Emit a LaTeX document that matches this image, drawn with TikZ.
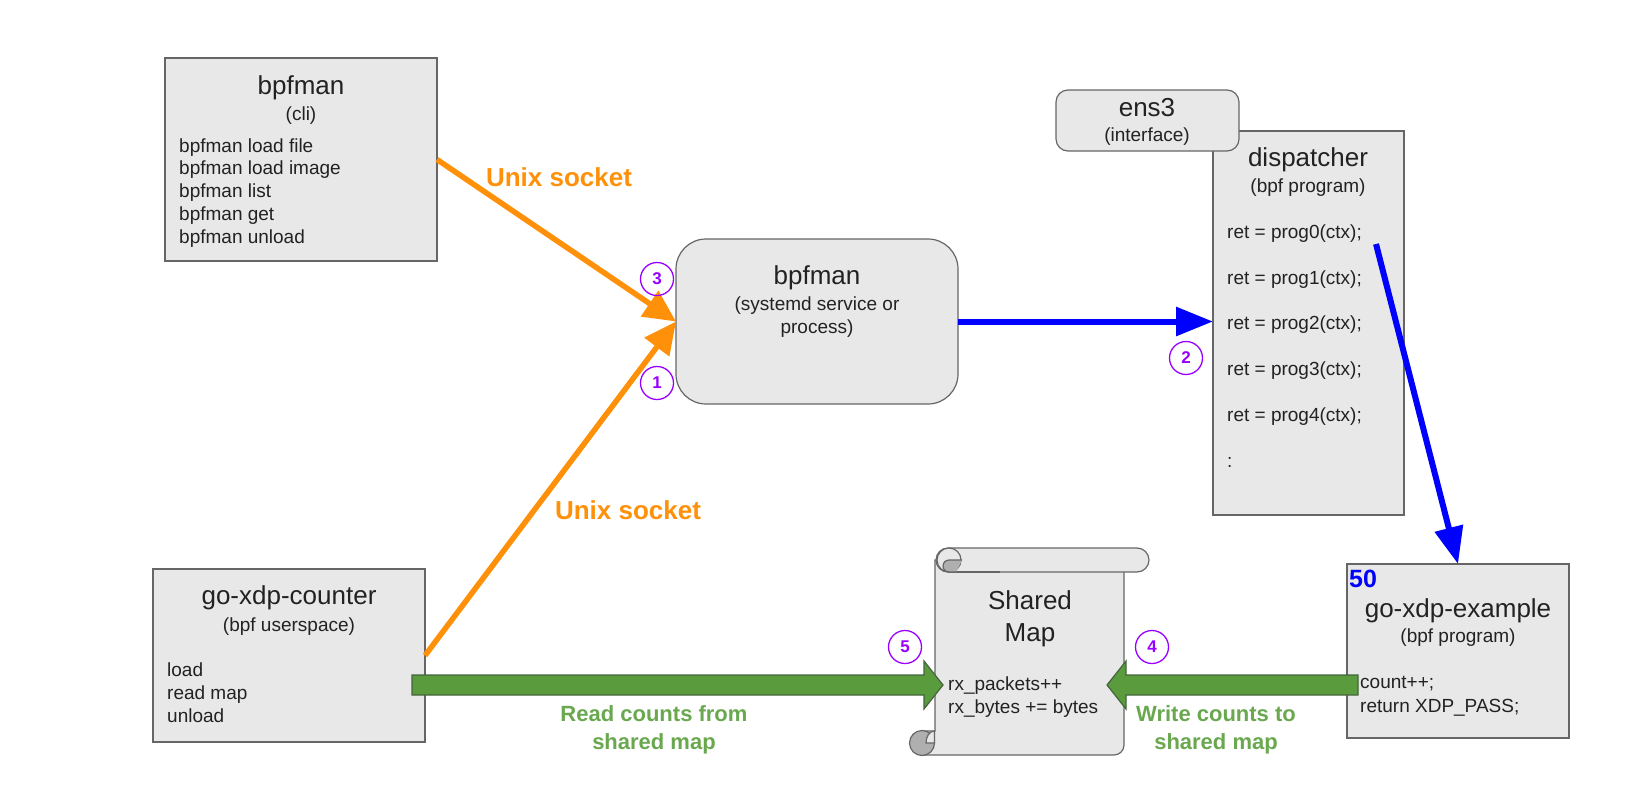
\documentclass[tikz,border=0pt]{standalone}
\usepackage{fontspec}
\setmainfont{Liberation Sans}
\usepackage{tikz}
\usetikzlibrary{arrows.meta, positioning, calc}
\definecolor{boxFill}{RGB}{232,232,232}
\definecolor{boxLine}{RGB}{102,102,102}
\definecolor{sockColor}{RGB}{255,145,10}
\definecolor{callColor}{RGB}{0,0,255}
\definecolor{mapColor}{RGB}{90,155,62}
\definecolor{mapLine}{RGB}{70,100,60}
\definecolor{mapText}{RGB}{106,168,79}
\definecolor{stepColor}{RGB}{153,0,255}
\definecolor{curlFill}{RGB}{175,175,175}
\definecolor{inkColor}{RGB}{34,34,34}

\tikzset{
  greybox/.style={draw=boxLine, fill=boxFill, line width=1.2pt, inner sep=0pt, outer sep=0pt, anchor=north west},
  boxtitle/.style={font=\fontsize{26}{30}\selectfont, text=inkColor, text height=19pt, text depth=5.5pt, inner sep=0pt},
  boxsub/.style={font=\fontsize{19}{22}\selectfont, text=inkColor, text height=14pt, text depth=4pt, inner sep=0pt},
  codeline/.style={boxsub, anchor=west},
  numcirc/.style={circle, draw=stepColor, line width=1.3pt, minimum size=33pt, inner sep=0pt, text=stepColor, font=\bfseries\fontsize{17}{17}\selectfont},
  sockline/.style={draw=sockColor, line width=5.5pt, -{Triangle[length=32pt, width=30pt]}},
  callline/.style={draw=callColor, line width=6pt, -{Triangle[length=37pt, width=28pt]}},
  mapflow/.style={fill=mapColor, draw=mapLine, line width=1.2pt, line join=miter},
  scrollpart/.style={draw=boxLine, fill=boxFill, line width=1.2pt},
  socklabel/.style={text=sockColor, font=\bfseries\fontsize{26}{30}\selectfont, inner sep=0pt},
  maplabel/.style={text=mapText, font=\bfseries\fontsize{22}{28}\selectfont, align=center, inner sep=0pt}
}

\begin{document}
\begin{tikzpicture}[x=1pt, y=-1pt]
    \useasboundingbox (0,0) rectangle (1632,790);
    \fill[white] (0,0) rectangle (1632,790);

    % bpfman cli
    \node[greybox, minimum width=272pt, minimum height=203pt] (cli) at (165,58) {};
    \node[boxtitle] (clititle) at (301,88) {bpfman};
    \node[boxsub] (clisub) at (301,115) {(cli)};
    \foreach \y/\txt [count=\i] in {
        147/bpfman load file,
        169/bpfman load image,
        192/bpfman list,
        215/bpfman get,
        238/bpfman unload
    } {
        \node[codeline] (cli-l\i) at (179,\y) {\txt};
    }

    % bpfman service
    \node[greybox, minimum width=282pt, minimum height=165pt, rounded corners=30pt] (svc) at (676,239) {};
    \node[boxtitle] (svctitle) at (817,278) {bpfman};
    \node[boxsub] (svcsub1) at (817,305) {(systemd service or};
    \node[boxsub] (svcsub2) at (817,328) {process)};

    % dispatcher and interface
    \node[greybox, minimum width=191pt, minimum height=384pt] (disp) at (1213,131) {};
    \node[boxtitle] (disptitle) at (1308,160) {dispatcher};
    \node[boxsub] (dispsub) at (1308,187) {(bpf program)};
    \foreach \y/\txt [count=\i] in {
        233/ret = prog0(ctx);,
        279/ret = prog1(ctx);,
        324/ret = prog2(ctx);,
        370/ret = prog3(ctx);,
        416/ret = prog4(ctx);,
        462/:
    } {
        \node[codeline] (disp-l\i) at (1227,\y) {\txt};
    }
    \node[greybox, minimum width=183pt, minimum height=61pt, rounded corners=12pt] (ens) at (1056,90) {};
    \node[boxtitle] (enstitle) at (1147,110) {ens3};
    \node[boxsub] (enssub) at (1147,136) {(interface)};

    % go-xdp-example
    \node[greybox, minimum width=222pt, minimum height=174pt] (prog) at (1347,564) {};
    \node[anchor=north west, text=callColor, font=\bfseries\fontsize{25}{25}\selectfont, inner sep=0pt] (prio) at (1349,570) {50};
    \node[boxtitle] (progtitle) at (1458,611) {go-xdp-example};
    \node[boxsub] (progsub) at (1458,637) {(bpf program)};
    \node[codeline] (prog-l1) at (1360,683) {count++;};
    \node[codeline] (prog-l2) at (1360,707) {return XDP\_PASS;};

    % go-xdp-counter
    \node[greybox, minimum width=272pt, minimum height=173pt] (ctr) at (153,569) {};
    \node[boxtitle] (ctrtitle) at (289,598) {go-xdp-counter};
    \node[boxsub] (ctrsub) at (289,626) {(bpf userspace)};
    \foreach \y/\txt [count=\i] in {671/load, 694/read map, 717/unload} {
        \node[codeline] (ctr-l\i) at (167,\y) {\txt};
    }

    % Shared map scroll
    \draw[scrollpart] (935,560) -- (935,731) -- (922,731) -- (922,755)
        -- (1114,755) arc[start angle=270, end angle=360, radius=10pt] -- (1124,560) -- cycle;
    \draw[scrollpart, rounded corners=12pt] (936,548) rectangle (1149,572);
    \draw[scrollpart] (949,560) circle[radius=12pt];
    \draw[scrollpart] (949,572) -- (1000,572);
    \draw[draw=boxLine, fill=curlFill, line width=1.2pt] (962,560) -- (949,560) arc[start angle=90, end angle=270, radius=6pt] -- (956,572);
    \draw[draw=boxLine, fill=curlFill, line width=1.2pt] (922,743) circle[radius=12.5pt];
    \draw[scrollpart] (926,743) -- (934.5,743) -- (934.5,731) .. controls (929,731) and (926,737) .. (926,743) -- cycle;
    \node[boxtitle] (maptitle1) at (1030,603) {Shared};
    \node[boxtitle] (maptitle2) at (1030,635) {Map};
    \node[codeline] (map-l1) at (948,685) {rx\_packets++};
    \node[codeline] (map-l2) at (948,708) {rx\_bytes += bytes};

    % Unix socket arrows
    \draw[sockline] (cli.east) -- (svc.west);
    \draw[sockline] (ctr.east) -- (svc.west);
    \node[socklabel] (sock1) at (559,177) {Unix socket};
    \node[socklabel] (sock2) at (628,510) {Unix socket};

    % bpf calls
    \coordinate (dspout) at (1376,244);
    \draw[callline] (svc.east) -- (disp.west |- svc.east);
    \draw[callline] (dspout) -- (prog.north);

    % Map read/write arrows
    \coordinate (rdtail) at (412,685);
    \coordinate (rdtip) at (943,685);
    \coordinate (wrtail) at (1358,685);
    \coordinate (wrtip) at (1107,685);
    \draw[mapflow] ($(rdtail)+(0,-10)$) -- ($(rdtip)+(-19,-10)$) -- ($(rdtip)+(-19,-24)$) -- (rdtip)
        -- ($(rdtip)+(-19,24)$) -- ($(rdtip)+(-19,10)$) -- ($(rdtail)+(0,10)$) -- cycle;
    \draw[mapflow] ($(wrtail)+(0,-10)$) -- ($(wrtip)+(19,-10)$) -- ($(wrtip)+(19,-24)$) -- (wrtip)
        -- ($(wrtip)+(19,24)$) -- ($(wrtip)+(19,10)$) -- ($(wrtail)+(0,10)$) -- cycle;
    \node[maplabel] (rdlabel) at (654,730) {Read counts from\\shared map};
    \node[maplabel] (wrlabel) at (1216,730) {Write counts to\\shared map};

    % Step numbers
    \node[numcirc] (s1) at (657,383) {1};
    \node[numcirc] (s2) at (1186,358) {2};
    \node[numcirc] (s3) at (657,279) {3};
    \node[numcirc] (s4) at (1152,647) {4};
    \node[numcirc] (s5) at (905,647) {5};

\end{tikzpicture}
\end{document}
